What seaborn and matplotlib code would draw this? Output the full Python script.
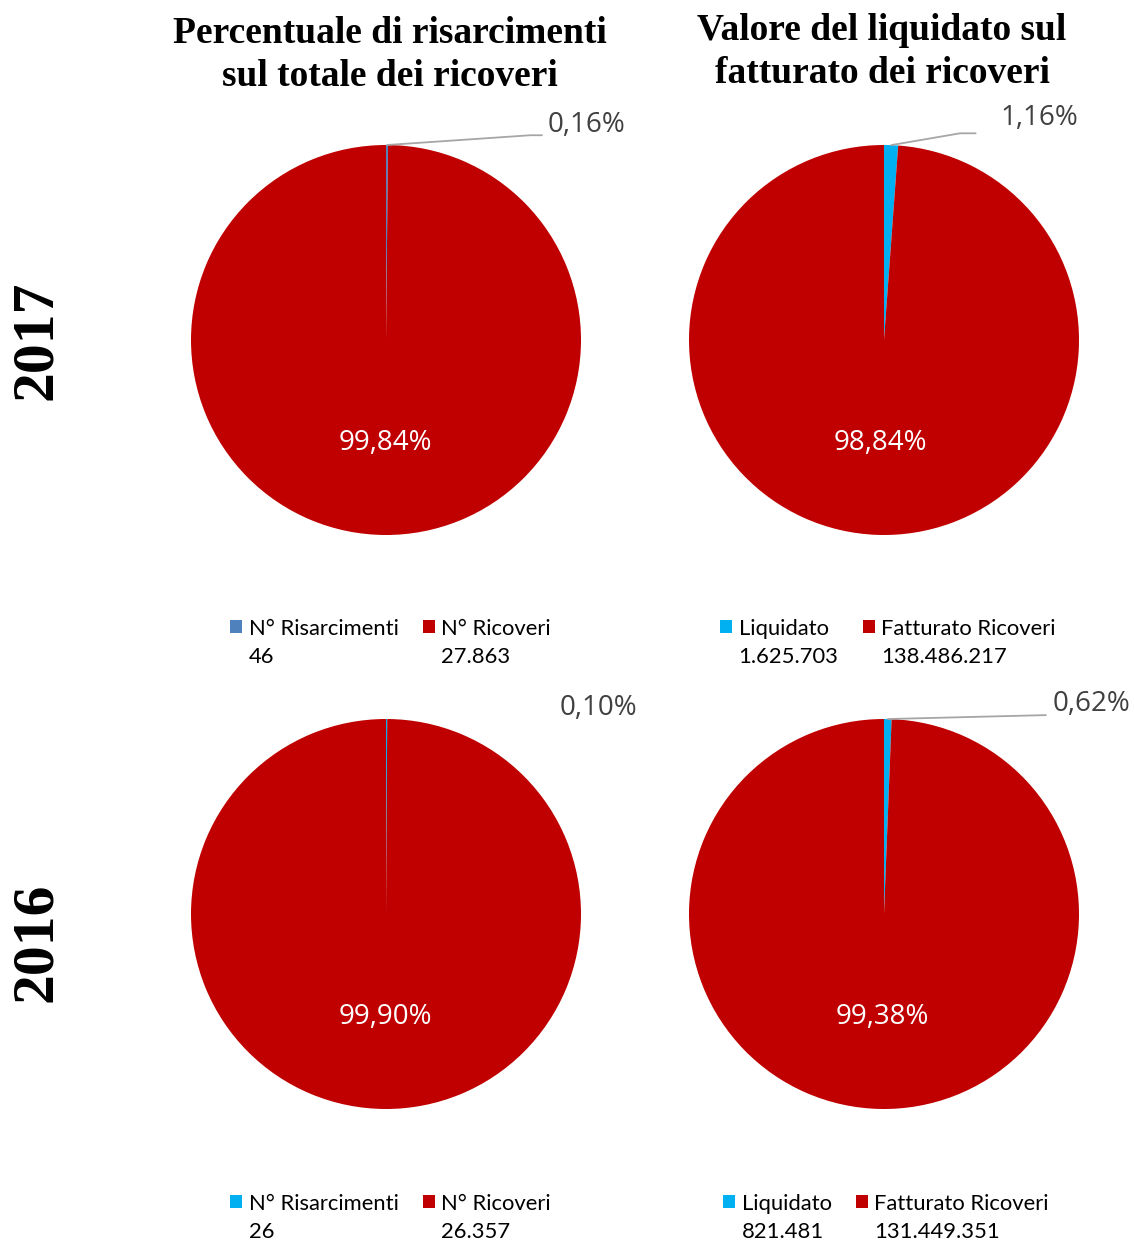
import numpy as np
import matplotlib.pyplot as plt
import seaborn as sns
from matplotlib.patches import Patch

sns.set_theme(style='white')
plt.rcParams['font.family'] = ['Lato', 'DejaVu Sans']
plt.rcParams['text.color'] = 'black'

# dati
anni = ['2017', '2016']
titoli = ['Percentuale di risarcimenti\nsul totale dei ricoveri',
          'Valore del liquidato sul\nfatturato dei ricoveri']
voci_sx = ['N° Risarcimenti', 'N° Ricoveri']
voci_dx = ['Liquidato', 'Fatturato Ricoveri']
risarcimenti = [46, 26]
ricoveri = [27863, 26357]
liquidato = [1625703, 821481]
fatturato = [138486217, 131449351]

rosso = '#C00000'
blu = '#4F81BD'
ciano = '#00B0F0'

W, H = 1134, 1240
R = 195
fig = plt.figure(figsize=(W / 100, H / 100), dpi=100)
fig.patch.set_facecolor('white')


def num(n):
    return f'{n:,}'.replace(',', '.')


def pct(p):
    return f'{p:.2f}'.replace('.', ',') + '%'


def torta(cx, cy, valori, colori, voci, leg_x, leg_y, lab_xy, linea):
    ax = fig.add_axes([(cx - R) / W, (H - cy - R) / H, 2 * R / W, 2 * R / H])
    wedges, _ = ax.pie(valori, colors=colori, startangle=90, counterclock=False,
                       radius=1, wedgeprops=dict(linewidth=0))
    ax.set_xlim(-1, 1)
    ax.set_ylim(-1, 1)
    ax.set_aspect('equal')
    ax.axis('off')
    tot = sum(valori)
    # etichetta grande, dentro la fetta rossa
    w = wedges[1]
    mid = np.deg2rad((w.theta1 + w.theta2) / 2)
    ax.text(0.53 * np.cos(mid), 0.53 * np.sin(mid), pct(100 * valori[1] / tot),
            color='white', fontsize=20, ha='center', va='center',
            family=['Open Sans', 'DejaVu Sans'])
    # etichetta piccola, fuori
    w = wedges[0]
    mid = np.deg2rad((w.theta1 + w.theta2) / 2)
    ax.text(lab_xy[0], lab_xy[1], pct(100 * valori[0] / tot), color='#404040',
            fontsize=20, ha='left', va='center', clip_on=False,
            family=['Open Sans', 'DejaVu Sans'])
    if linea is not None:
        xs = [np.cos(mid)] + [p[0] for p in linea]
        ys = [np.sin(mid)] + [p[1] for p in linea]
        ax.plot(xs, ys, color='#A6A6A6', lw=1.3, clip_on=False)
    vuoto = Patch(facecolor='none', edgecolor='none')
    fig.legend([wedges[0], vuoto, wedges[1], vuoto],
               [voci[0], num(valori[0]), voci[1], num(valori[1])],
               ncol=2, loc='center left', frameon=False,
               bbox_to_anchor=(leg_x / W, 1 - leg_y / H),
               fontsize=15.8, handlelength=0.55, handleheight=0.55,
               handletextpad=0.3, columnspacing=1.1, labelspacing=0.4,
               borderpad=0, borderaxespad=0)


torta(386, 340, [risarcimenti[0], ricoveri[0]], [blu, rosso], voci_sx,
      230, 643, (0.83, 1.10), [(0.74, 1.05), (0.80, 1.05)])
torta(884, 340, [liquidato[0], fatturato[0]], [ciano, rosso], voci_dx,
      720, 643, (0.595, 1.14), [(0.39, 1.06), (0.47, 1.06)])
torta(386, 914, [risarcimenti[1], ricoveri[1]], [ciano, rosso], voci_sx,
      230, 1218, (0.89, 1.056), None)
torta(884, 914, [liquidato[1], fatturato[1]], [ciano, rosso], voci_dx,
      723, 1218, (0.867, 1.077), [(0.83, 1.02)])

serif = ['Liberation Serif', 'DejaVu Serif']
fig.text(390 / W, 1 - 55 / H, titoli[0], ha='center', va='center', fontsize=27,
         fontweight='bold', family=serif, linespacing=1.3, color='black')
fig.text(882 / W, 1 - 52 / H, titoli[1], ha='center', va='center', fontsize=27,
         fontweight='bold', family=serif, linespacing=1.3, color='black')
fig.text(37 / W, 1 - 340 / H, anni[0], rotation=90, ha='center', va='center',
         fontsize=43, fontweight='bold', family=serif, color='black')
fig.text(37 / W, 1 - 942 / H, anni[1], rotation=90, ha='center', va='center',
         fontsize=43, fontweight='bold', family=serif, color='black')

fig.savefig('out.png', dpi=100)
